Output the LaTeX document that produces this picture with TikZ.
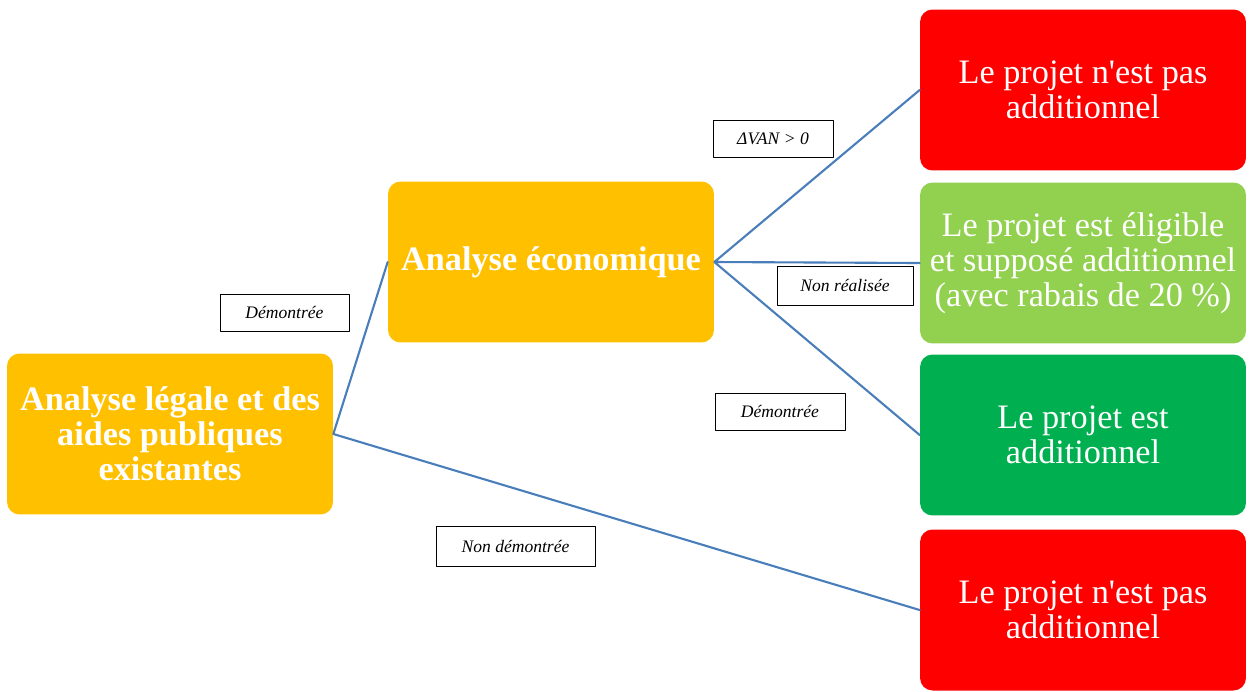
\documentclass[tikz,border=0pt]{standalone}
\usepackage{fontspec}
\setmainfont{Liberation Serif}
\definecolor{orangebox}{RGB}{255,192,0}
\definecolor{redbox}{RGB}{255,0,0}
\definecolor{lightgreenbox}{RGB}{146,208,80}
\definecolor{greenbox}{RGB}{0,176,80}
\definecolor{linkblue}{RGB}{74,126,187}
\begin{document}
\begin{tikzpicture}[x=0.02cm, y=-0.02cm, line join=round, line cap=round,
	bigbox/.style={rounded corners=0.25cm, minimum width=6.52cm, minimum height=3.22cm, inner sep=0pt, align=center, text=white, font=\fontsize{19.5}{20}\selectfont},
	boldbox/.style={bigbox, font=\fontsize{19.5}{20}\selectfont\bfseries},
	tag/.style={draw, fill=white, line width=0.5pt, inner sep=0pt, font=\fontsize{10}{12}\selectfont\itshape},
	link/.style={draw=linkblue, line width=1.2pt}]
	\useasboundingbox (0,0) rectangle (1250,691);
	\node[boldbox, fill=orangebox] (legal) at (170,434) {Analyse légale et des\\aides publiques\\existantes};
	\node[boldbox, fill=orangebox] (eco) at (551,262) {Analyse économique};
	\node[bigbox, fill=redbox] (nonadd1) at (1083,90) {Le projet n\textquotesingle est pas\\additionnel};
	\node[bigbox, fill=lightgreenbox] (elig) at (1083,263) {Le projet est éligible\\et supposé additionnel\\(avec rabais de 20~\%)};
	\node[bigbox, fill=greenbox] (add) at (1083,435) {Le projet est\\additionnel};
	\node[bigbox, fill=redbox] (nonadd2) at (1083,610) {Le projet n\textquotesingle est pas\\additionnel};
	\draw[link] (legal.east)--(eco.west) (legal.east)--(nonadd2.west);
	\draw[link] (eco.east)--(nonadd1.west) (eco.east)--(elig.west) (eco.east)--(add.west);
	\node[tag, minimum width=2.58cm, minimum height=0.74cm] (demo1) at (284.5,312.5) {Démontrée};
	\node[tag, minimum width=3.18cm, minimum height=0.8cm] (nondemo) at (515.5,546) {Non démontrée};
	\node[tag, minimum width=2.4cm, minimum height=0.74cm] (van) at (773,138.5) {ΔVAN > 0};
	\node[tag, minimum width=2.72cm, minimum height=0.78cm] (nonreal) at (845,285.5) {Non réalisée};
	\node[tag, minimum width=2.6cm, minimum height=0.74cm] (demo2) at (780,411.5) {Démontrée};
\end{tikzpicture}
\end{document}
